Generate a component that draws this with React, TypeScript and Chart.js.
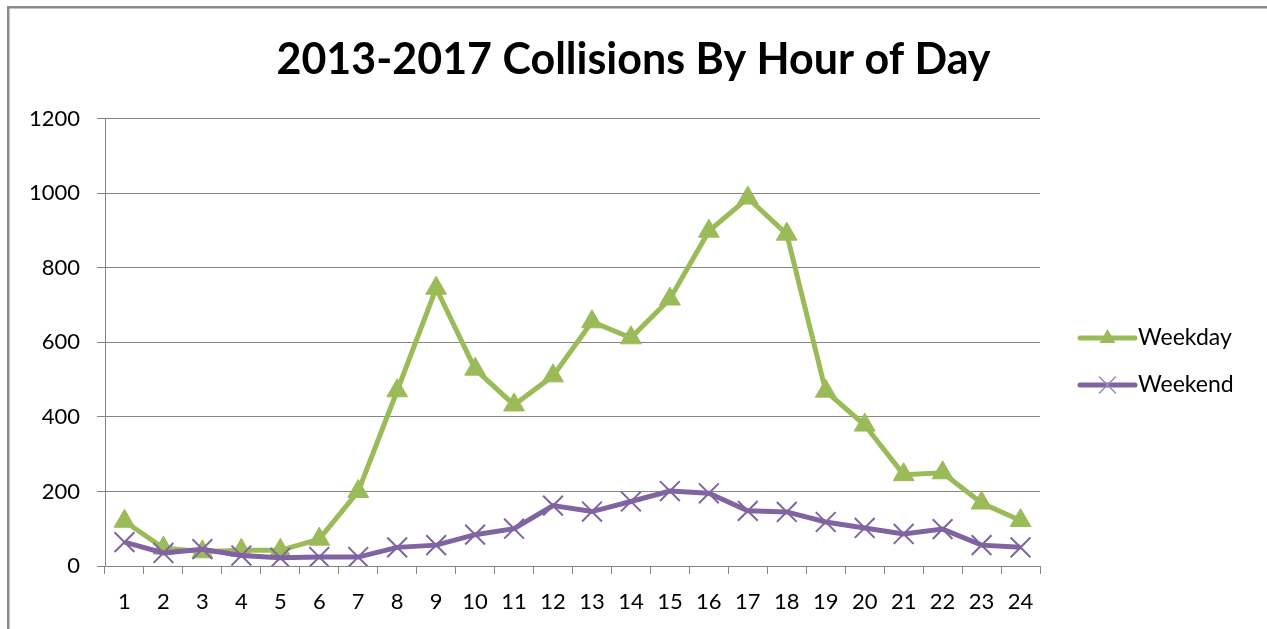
import { useEffect, useRef } from 'react';
import { Chart, registerables } from 'chart.js';

Chart.register(...registerables);

const hours = ['1', '2', '3', '4', '5', '6', '7', '8', '9', '10', '11', '12', '13', '14', '15', '16', '17', '18', '19', '20', '21', '22', '23', '24'];
const weekday = [120, 48, 38, 42, 42, 72, 200, 470, 745, 528, 432, 510, 655, 612, 716, 898, 987, 890, 469, 378, 245, 250, 169, 122];
const weekend = [64, 35, 45, 28, 22, 24, 24, 50, 56, 84, 100, 162, 146, 173, 201, 195, 148, 145, 118, 102, 86, 99, 56, 50];
const seriesNames = ['Weekday', 'Weekend'];
const titleText = '2013-2017 Collisions By Hour of Day';

const FONT = 'Lato, "Open Sans", sans-serif';
const GREEN = '#9BBB59';
const PURPLE = '#8064A2';
const GRID = '#868686';

export default function App() {
  const ref = useRef<HTMLCanvasElement>(null);

  useEffect(() => {
    const canvas = ref.current;
    if (!canvas) return;

    const framePlugin = {
      id: 'frame',
      beforeDraw(chart: any) {
        const ctx = chart.ctx;
        ctx.save();
        ctx.fillStyle = '#ffffff';
        ctx.fillRect(0, 0, chart.width, chart.height);
        ctx.strokeStyle = '#8a8a8a';
        ctx.lineWidth = 2.5;
        ctx.beginPath();
        ctx.moveTo(8.25, chart.height + 5);
        ctx.lineTo(8.25, 7.25);
        ctx.lineTo(chart.width + 5, 7.25);
        ctx.stroke();
        ctx.restore();
      },
    };

    const legendPlugin = {
      id: 'excelLegend',
      afterDraw(chart: any) {
        const ctx = chart.ctx;
        ctx.save();
        const x0 = 1080;
        const x1 = 1135;
        const xm = (x0 + x1) / 2;
        chart.data.datasets.forEach((ds: any, i: number) => {
          const y = 338 + i * 47;
          ctx.strokeStyle = ds.borderColor;
          ctx.lineWidth = 5;
          ctx.lineCap = 'round';
          ctx.beginPath();
          ctx.moveTo(x0, y);
          ctx.lineTo(x1, y);
          ctx.stroke();
          if (ds.pointStyle === 'triangle') {
            ctx.fillStyle = ds.borderColor;
            ctx.beginPath();
            ctx.moveTo(xm, y - 9);
            ctx.lineTo(xm + 8, y + 5);
            ctx.lineTo(xm - 8, y + 5);
            ctx.closePath();
            ctx.fill();
          } else {
            ctx.strokeStyle = '#9c86bd';
            ctx.lineWidth = 1.5;
            ctx.beginPath();
            ctx.moveTo(xm - 8, y - 8);
            ctx.lineTo(xm + 8, y + 8);
            ctx.moveTo(xm + 8, y - 8);
            ctx.lineTo(xm - 8, y + 8);
            ctx.stroke();
          }
          ctx.fillStyle = '#000000';
          ctx.font = `23px ${FONT}`;
          ctx.textAlign = 'left';
          ctx.textBaseline = 'middle';
          ctx.fillText(ds.label, x1 + 3, y);
        });
        ctx.restore();
      },
    };

    const chart = new Chart(canvas, {
      type: 'line',
      data: {
        labels: hours,
        datasets: [
          {
            label: seriesNames[0],
            data: weekday,
            borderColor: GREEN,
            backgroundColor: GREEN,
            borderWidth: 5,
            pointStyle: 'triangle',
            pointRadius: 12,
            pointBackgroundColor: GREEN,
            pointBorderColor: GREEN,
            pointBorderWidth: 1,
            tension: 0,
            order: 1,
          },
          {
            label: seriesNames[1],
            data: weekend,
            borderColor: PURPLE,
            backgroundColor: PURPLE,
            borderWidth: 5,
            pointStyle: 'crossRot',
            pointRadius: 14,
            pointBorderColor: PURPLE,
            pointBorderWidth: 2,
            tension: 0,
            order: 0,
          },
        ],
      },
      options: {
        responsive: false,
        animation: false,
        layout: { padding: { left: 0, right: 0, top: 0, bottom: 0 } },
        plugins: {
          legend: { display: false },
          tooltip: { enabled: false },
          title: {
            display: true,
            text: titleText,
            color: '#000000',
            font: { family: FONT, size: 43, weight: 'bold' },
            padding: { top: 34, bottom: 33 },
          },
        },
        scales: {
          x: {
            type: 'category',
            offset: true,
            grid: {
              offset: true,
              drawOnChartArea: false,
              drawTicks: true,
              tickLength: 8,
              color: GRID,
            },
            border: { color: GRID, width: 1 },
            ticks: {
              color: '#000000',
              font: { family: FONT, size: 22 },
              padding: 15,
              maxRotation: 0,
              autoSkip: false,
            },
            afterFit(scale: any) {
              scale.height = 63;
            },
          },
          y: {
            min: 0,
            max: 1200,
            ticks: {
              stepSize: 200,
              color: '#000000',
              font: { family: FONT, size: 22 },
              padding: 17,
              callback: (v: any) => String(v),
            },
            grid: { color: GRID, tickLength: 8, drawTicks: true },
            border: { color: GRID, width: 1 },
            afterFit(scale: any) {
              scale.width = 105;
            },
          },
          legendSpace: {
            type: 'linear',
            position: 'right',
            display: true,
            min: 0,
            max: 1,
            grid: { display: false, drawOnChartArea: false, drawTicks: false },
            border: { display: false },
            ticks: { display: false },
            afterFit(scale: any) {
              scale.width = 227;
            },
          },
        },
      },
      plugins: [framePlugin, legendPlugin],
    });

    return () => chart.destroy();
  }, []);

  return (
    <div style={{ position: 'fixed', left: 0, top: 0, width: 1267, height: 629, background: '#fff' }}>
      <canvas ref={ref} width={1267} height={629} style={{ display: 'block' }} />
    </div>
  );
}
